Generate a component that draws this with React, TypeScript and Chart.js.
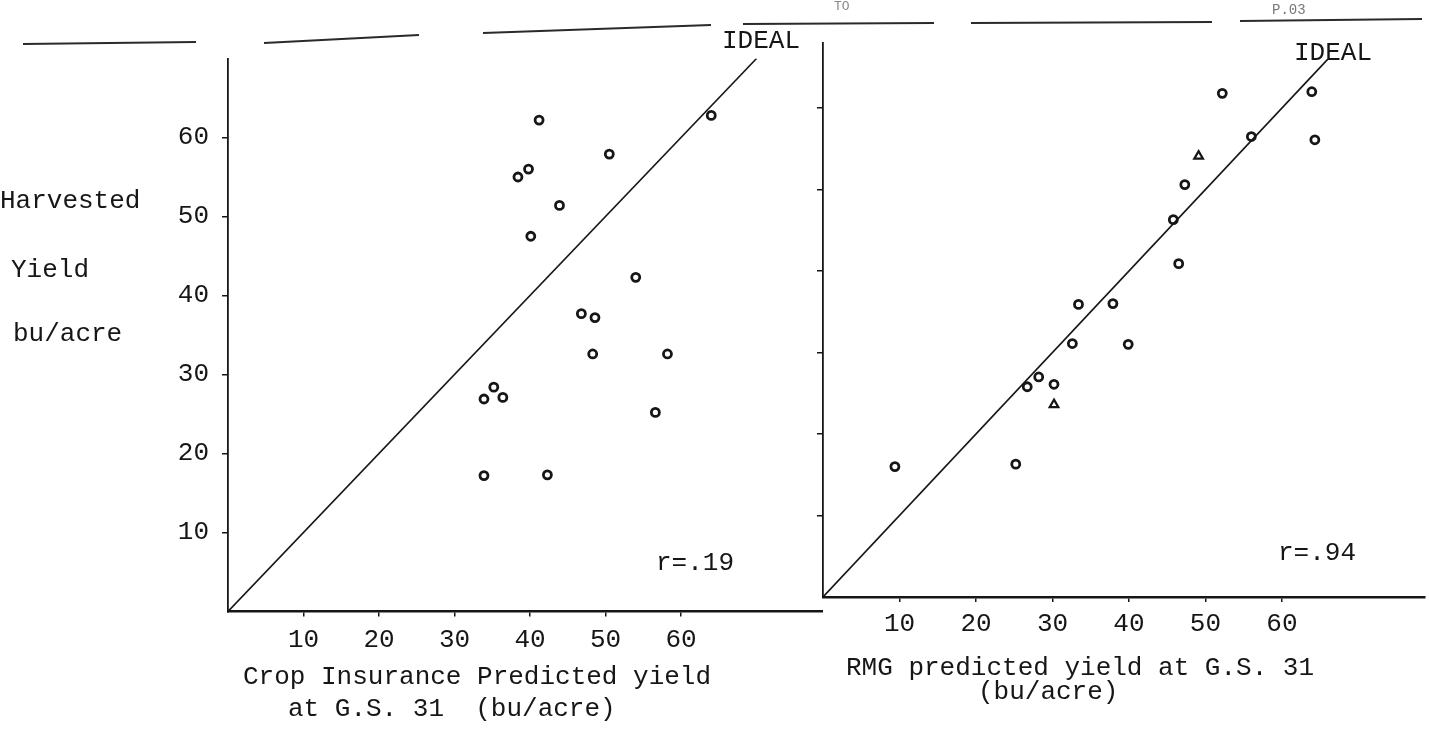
import React, { useEffect, useRef } from 'react';
import { Chart, registerables } from 'chart.js';

Chart.register(...registerables);

// ---------- data (bu/acre) ----------
// Left panel: Crop Insurance predicted yield vs harvested yield
const ciPredicted = [41.2, 50.5, 38.4, 39.8, 43.9, 40.1, 64.0, 54.0, 46.8, 48.6, 48.3, 58.2, 33.9, 35.2, 36.4, 56.6, 33.9, 42.3];
const ciHarvested = [62.2, 57.9, 55.0, 56.0, 51.4, 47.5, 62.8, 42.3, 37.7, 37.2, 32.6, 32.6, 26.9, 28.4, 27.1, 25.2, 17.2, 17.3];

// Right panel: RMG predicted yield vs harvested yield (circles)
const rmgPredicted = [52.2, 63.9, 56.0, 64.3, 47.3, 45.8, 46.5, 33.4, 37.9, 32.6, 39.9, 28.2, 26.7, 30.2, 9.4, 25.2];
const rmgHarvested = [61.8, 62.0, 56.5, 56.1, 50.6, 46.3, 40.9, 35.9, 36.0, 31.1, 31.0, 27.0, 25.8, 26.1, 16.0, 16.3];
// Right panel: points drawn as triangles
const rmgTriPredicted = [49.1, 30.2];
const rmgTriHarvested = [54.1, 23.6];

// IDEAL (1:1) lines: start / end values
const idealLeft = [0, 70];
const idealRight = [0, 66];

// tick labels
const xTickValues = [10, 20, 30, 40, 50, 60];
const yTickValues = [10, 20, 30, 40, 50, 60];

// axis ranges
const leftXRange = [0, 78.8];
const leftYRange = [0, 70];
const rightXRange = [0, 78.7];
const rightYRange = [0, 68];

// texts
const leftAxisWords = ['Harvested', 'Yield', 'bu/acre'];
const leftTitle = ['Crop Insurance Predicted yield', 'at G.S. 31  (bu/acre)'];
const rightTitle = ['RMG predicted yield at G.S. 31', '(bu/acre)'];
const leftR = 'r=.19';
const rightR = 'r=.94';
const idealText = 'IDEAL';

// ---------- styling ----------
const FONT = "'Liberation Mono', 'DejaVu Sans Mono', monospace";
const INK = '#161616';

type Label = { text: string; x: number; y: number; size?: number; color?: string };
type Seg = [number, number, number, number];

// page-frame decoration: the broken top rule of the scanned sheet
const frameRule: Seg[] = [
  [23, 44, 196, 42],
  [264, 43, 419, 35],
  [483, 33, 711, 25],
  [743, 24, 934, 23],
  [971, 23, 1212, 22],
  [1240, 21, 1422, 19],
];

function textPlugin(id: string, offsetX: number, labels: Label[], segs: Seg[]) {
  return {
    id,
    afterDraw(chart: any) {
      const ctx: CanvasRenderingContext2D = chart.ctx;
      ctx.save();
      ctx.strokeStyle = '#2a2a2a';
      ctx.lineWidth = 2.2;
      segs.forEach(([x1, y1, x2, y2]) => {
        ctx.beginPath();
        ctx.moveTo(x1 - offsetX, y1);
        ctx.lineTo(x2 - offsetX, y2);
        ctx.stroke();
      });
      ctx.textAlign = 'left';
      ctx.textBaseline = 'alphabetic';
      labels.forEach((l) => {
        ctx.font = `${l.size ?? 26}px ${FONT}`;
        ctx.fillStyle = l.color ?? INK;
        ctx.fillText(l.text, l.x - offsetX, l.y);
      });
      ctx.restore();
    },
  };
}

const toPoints = (xs: number[], ys: number[]) => xs.map((x, i) => ({ x, y: ys[i] }));

function makeConfig(opts: {
  circles: { x: number; y: number }[];
  triangles?: { x: number; y: number }[];
  ideal: number[];
  xRange: number[];
  yRange: number[];
  yAxisWidth: number;
  xAxisHeight: number;
  padTop: number;
  padRight: number;
  showYLabels: boolean;
  xPad: number;
  plugin: any;
}) {
  const datasets: any[] = [
    {
      label: 'IDEAL',
      data: opts.ideal.map((v) => ({ x: v, y: v })),
      showLine: true,
      borderColor: INK,
      borderWidth: 1.6,
      pointRadius: 0,
      fill: false,
    },
    {
      label: 'fields',
      data: opts.circles,
      pointStyle: 'circle',
      pointRadius: 4,
      pointBorderWidth: 2.8,
      pointBorderColor: INK,
      pointBackgroundColor: '#ffffff',
      showLine: false,
    },
  ];
  if (opts.triangles) {
    datasets.push({
      label: 'fields (triangle)',
      data: opts.triangles,
      pointStyle: 'triangle',
      pointRadius: 5,
      pointBorderWidth: 2.2,
      pointBorderColor: INK,
      pointBackgroundColor: '#ffffff',
      showLine: false,
    });
  }
  return {
    type: 'scatter' as const,
    data: { datasets },
    options: {
      animation: false as const,
      responsive: false,
      maintainAspectRatio: false,
      layout: { autoPadding: false, padding: { left: 0, top: opts.padTop, right: opts.padRight, bottom: 0 } },
      plugins: { legend: { display: false }, tooltip: { enabled: false }, title: { display: false } },
      scales: {
        x: {
          type: 'linear' as const,
          min: opts.xRange[0],
          max: opts.xRange[1],
          afterFit: (s: any) => {
            s.height = opts.xAxisHeight;
          },
          afterBuildTicks: (s: any) => {
            s.ticks = xTickValues.map((v) => ({ value: v }));
          },
          grid: { drawOnChartArea: false, drawTicks: true, tickLength: 5, tickColor: INK, lineWidth: 1.5 },
          border: { display: true, color: INK, width: 2.4 },
          ticks: { font: { family: FONT, size: 26 }, color: INK, padding: opts.xPad, maxRotation: 0, autoSkip: false },
        },
        y: {
          type: 'linear' as const,
          min: opts.yRange[0],
          max: opts.yRange[1],
          afterFit: (s: any) => {
            s.width = opts.yAxisWidth;
          },
          afterBuildTicks: (s: any) => {
            s.ticks = yTickValues.map((v) => ({ value: v }));
          },
          grid: { drawOnChartArea: false, drawTicks: true, tickLength: 6, tickColor: INK, lineWidth: 1.5 },
          border: { display: true, color: INK, width: 1.8 },
          ticks: {
            font: { family: FONT, size: 26 },
            color: INK,
            padding: 13,
            autoSkip: false,
            callback: (v: any) => (opts.showYLabels ? String(v) : ''),
          },
        },
      },
    },
    plugins: [opts.plugin],
  };
}

const LEFT_W = 823;
const RIGHT_X = 740;
const RIGHT_W = 1429 - RIGHT_X;

export default function App() {
  const leftRef = useRef<HTMLCanvasElement>(null);
  const rightRef = useRef<HTMLCanvasElement>(null);

  useEffect(() => {
    const leftPlugin = textPlugin(
      'leftText',
      0,
      [
        { text: leftAxisWords[0], x: 0, y: 208 },
        { text: leftAxisWords[1], x: 11, y: 277 },
        { text: leftAxisWords[2], x: 13, y: 341 },
        { text: idealText, x: 722, y: 48 },
        { text: leftR, x: 656, y: 570 },
        { text: leftTitle[0], x: 243, y: 684 },
        { text: leftTitle[1], x: 288, y: 716 },
      ],
      frameRule.filter((s) => s[0] < RIGHT_X)
    );
    const rightPlugin = textPlugin(
      'rightText',
      RIGHT_X,
      [
        { text: idealText, x: 1294, y: 60 },
        { text: rightR, x: 1278, y: 560 },
        { text: rightTitle[0], x: 846, y: 675 },
        { text: rightTitle[1], x: 978, y: 699 },
        { text: 'TO', x: 834, y: 10, size: 13, color: '#888' },
        { text: 'P.03', x: 1272, y: 14, size: 14, color: '#777' },
      ],
      frameRule.filter((s) => s[0] >= RIGHT_X)
    );

    const left = new Chart(
      leftRef.current as HTMLCanvasElement,
      makeConfig({
        circles: toPoints(ciPredicted, ciHarvested),
        ideal: idealLeft,
        xRange: leftXRange,
        yRange: leftYRange,
        yAxisWidth: 228,
        xAxisHeight: 740 - 611.5,
        padTop: 58.5,
        padRight: 0,
        showYLabels: true,
        xPad: 8,
        plugin: leftPlugin,
      }) as any
    );
    const right = new Chart(
      rightRef.current as HTMLCanvasElement,
      makeConfig({
        circles: toPoints(rmgPredicted, rmgHarvested),
        triangles: toPoints(rmgTriPredicted, rmgTriHarvested),
        ideal: idealRight,
        xRange: rightXRange,
        yRange: rightYRange,
        yAxisWidth: 823 - RIGHT_X,
        xAxisHeight: 740 - 597,
        padTop: 42.8,
        padRight: 4,
        showYLabels: false,
        xPad: 7,
        plugin: rightPlugin,
      }) as any
    );
    return () => {
      left.destroy();
      right.destroy();
    };
  }, []);

  return (
    <div
      style={{
        position: 'absolute',
        left: 0,
        top: 0,
        width: 1429,
        height: 740,
        background: '#ffffff',
        overflow: 'hidden',
      }}
    >
      <canvas
        ref={leftRef}
        width={LEFT_W}
        height={740}
        style={{ position: 'absolute', left: 0, top: 0, width: LEFT_W, height: 740 }}
      />
      <canvas
        ref={rightRef}
        width={RIGHT_W}
        height={740}
        style={{ position: 'absolute', left: RIGHT_X, top: 0, width: RIGHT_W, height: 740 }}
      />
    </div>
  );
}
